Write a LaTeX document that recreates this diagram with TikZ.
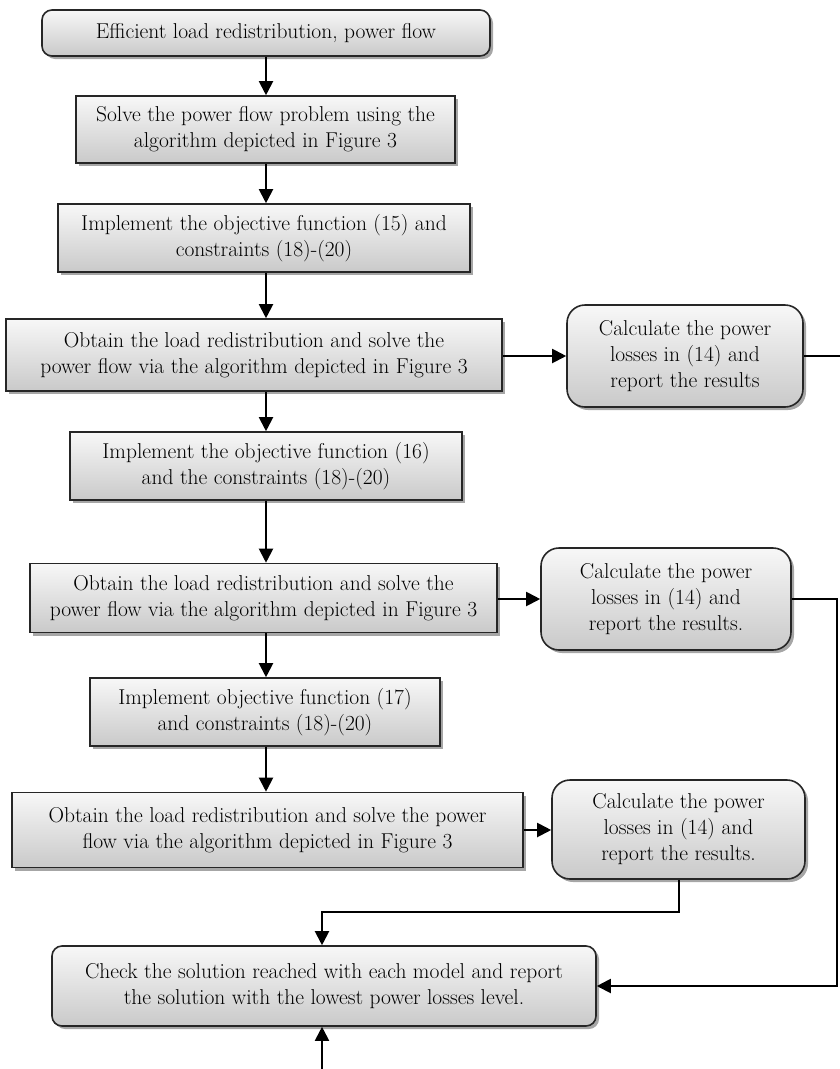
\documentclass[tikz,border=0pt]{standalone}
\usetikzlibrary{arrows.meta,shadows,calc}
\begin{document}
\begin{tikzpicture}[x=1pt,y=-1pt,
 box/.style={draw=black!85, line width=1.6pt, top color=gray!6, bottom color=gray!42,
   align=center, inner sep=2pt, font=\fontsize{21.5}{26}\selectfont,
   drop shadow={shadow xshift=3pt,shadow yshift=-3pt,opacity=0.35,fill=black}},
 rbox/.style={box, rounded corners=10pt},
 cbox/.style={box, rounded corners=18pt},
 arr/.style={line width=2pt, -{Triangle[length=14pt,width=14pt]}},
 ln/.style={line width=2pt}]
\path[use as bounding box] (0,0) rectangle (840,1069);

\node[rbox, minimum width=448pt, minimum height=46pt] (b1) at (266,33) {Efficient load redistribution, power flow};
\node[box, minimum width=379pt, minimum height=67pt] (b2) at (265.5,129.5) {Solve the power flow problem using the\\algorithm depicted in Figure 3};
\node[box, minimum width=412pt, minimum height=68pt] (b3) at (264,238) {Implement the objective function (15) and\\constraints (18)-(20)};
\node[box, minimum width=496pt, minimum height=72pt] (b4) at (254,355) {Obtain the load redistribution and solve the\\power flow via the algorithm depicted in Figure 3};
\node[cbox, minimum width=236pt, minimum height=102pt] (c1) at (685,356) {Calculate the power\\losses in (14) and\\report the results};
\node[box, minimum width=392pt, minimum height=68pt] (b5) at (266,466) {Implement the objective function (16)\\and the constraints (18)-(20)};
\node[box, minimum width=467pt, minimum height=69pt] (b6) at (263.5,598) {Obtain the load redistribution and solve the\\power flow via the algorithm depicted in Figure 3};
\node[cbox, minimum width=250pt, minimum height=102pt] (c2) at (666,599) {Calculate the power\\losses in (14) and\\report the results.};
\node[box, minimum width=350pt, minimum height=68pt] (b7) at (265,712) {Implement objective function (17)\\and constraints (18)-(20)};
\node[box, minimum width=511pt, minimum height=75pt] (b8) at (267.5,830) {Obtain the load redistribution and solve the power\\flow via the algorithm depicted in Figure 3};
\node[cbox, minimum width=253pt, minimum height=99pt] (c3) at (678.5,829.5) {Calculate the power\\losses in (14) and\\report the results.};
\node[rbox, minimum width=544pt, minimum height=80pt] (b9) at (324,986) {Check the solution reached with each model and report\\the solution with the lowest power losses level.};

\coordinate (sp) at (266,0);
\coordinate (edge) at (840,0);
\coordinate (rt) at (837,0);
\coordinate (j) at (322,912);
\coordinate (bot) at (322,1069);

\draw[arr] (b1.south -| sp) -- (b2.north -| sp);
\draw[arr] (b2.south -| sp) -- (b3.north -| sp);
\draw[arr] (b3.south -| sp) -- (b4.north -| sp);
\draw[arr] (b4.south -| sp) -- (b5.north -| sp);
\draw[arr] (b5.south -| sp) -- (b6.north -| sp);
\draw[arr] (b6.south -| sp) -- (b7.north -| sp);
\draw[arr] (b7.south -| sp) -- (b8.north -| sp);

\draw[arr] (b4.east |- c1.west) -- (c1.west);
\draw[ln] (c1.east) -- (c1.east -| edge);
\draw[arr] (b6.east |- c2.west) -- (c2.west);
\draw[arr] (c2.east) -- (c2.east -| rt) |- (b9.east);
\draw[arr] (b8.east) -- (b8.east -| c3.west);
\draw[arr] (c3.south) |- (j) -- (j |- b9.north);
\draw[arr] (bot) -- (bot |- b9.south);
\end{tikzpicture}
\end{document}
